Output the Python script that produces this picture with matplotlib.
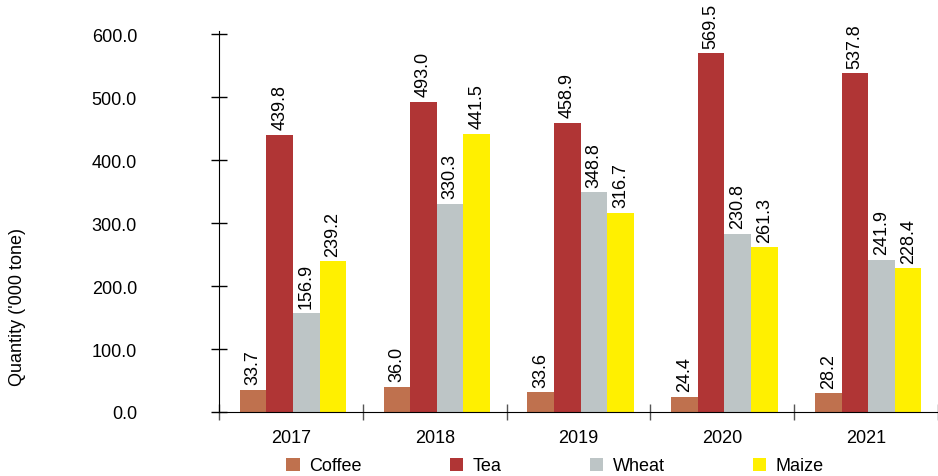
import matplotlib.pyplot as plt
import numpy as np
from matplotlib.ticker import FormatStrFormatter

plt.rcParams["font.family"] = ["Liberation Sans", "DejaVu Sans"]

years = ["2017", "2018", "2019", "2020", "2021"]
series = ["Coffee", "Tea", "Wheat", "Maize"]
colors = ["#BF714E", "#B03535", "#BDC5C6", "#FFF000"]

# labels as printed on the chart
coffee = [33.7, 36.0, 33.6, 24.4, 28.2]
tea = [439.8, 493.0, 458.9, 569.5, 537.8]
wheat = [156.9, 330.3, 348.8, 230.8, 241.9]
maize = [239.2, 441.5, 316.7, 261.3, 228.4]

# bar heights as drawn (the 2020 wheat bar is taller than its label)
coffee_bar = [35.0, 40.0, 31.0, 24.4, 30.0]
tea_bar = [439.8, 493.0, 458.9, 569.5, 537.8]
wheat_bar = [156.9, 330.3, 348.8, 283.0, 241.9]
maize_bar = [239.2, 441.5, 316.7, 261.3, 228.4]

labels = [coffee, tea, wheat, maize]
heights = [coffee_bar, tea_bar, wheat_bar, maize_bar]

fig = plt.figure(figsize=(9.38, 4.77), dpi=100)
ax = fig.add_axes([219 / 938, 64 / 477, 719 / 938, 381 / 477])

x = np.arange(len(years))
width = 0.185
for i, name in enumerate(series):
    pos = x + (i - 1.5) * width + 0.015
    bars = ax.bar(pos, heights[i], width, color=colors[i], label=name)
    for b, lab in zip(bars, labels[i]):
        ax.annotate(f"{lab:.1f}", (b.get_x() + b.get_width() / 2, b.get_height()),
                    xytext=(0, 4), textcoords="offset points",
                    ha="center", va="bottom", rotation=90, fontsize=13)

ax.set_xlim(-0.5, 4.5)
ax.set_ylim(0, 605)
ax.set_yticks(np.arange(0, 601, 100))
ax.yaxis.set_major_formatter(FormatStrFormatter("%.1f"))
ax.tick_params(axis="y", direction="inout", length=12, width=1, labelsize=13, pad=53)

ax.set_xticks(x)
ax.set_xticklabels(years)
ax.set_xticks(np.arange(-0.5, 5, 1), minor=True)
ax.tick_params(axis="x", which="major", length=0, labelsize=13, pad=12)
ax.tick_params(axis="x", which="minor", direction="inout", length=12, width=1, color="#555555")

for s in ["top", "right"]:
    ax.spines[s].set_visible(False)

fig.text(18 / 938, 1 - 307 / 477, "Quantity ('000 tone)", rotation=90,
         ha="center", va="center", fontsize=13)

fig.legend(loc="center", bbox_to_anchor=(555 / 938, 1 - 467 / 477), ncol=4,
           frameon=False, fontsize=13, handlelength=0.75, handleheight=0.75,
           columnspacing=4.9, handletextpad=0.5)

fig.savefig("out.png", dpi=100)
